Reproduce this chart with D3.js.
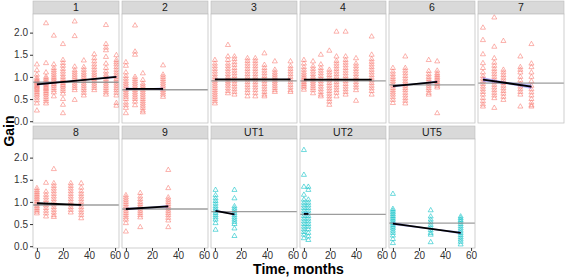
<!DOCTYPE html>
<html><head><meta charset="utf-8">
<script src="https://cdn.jsdelivr.net/npm/d3@7"></script>
<style>body{margin:0;background:#fff} text{font-family:"Liberation Sans",Arial,sans-serif}</style>
</head><body><svg id="c" width="567" height="277"></svg>
<script>
// ---- data ----
const panels = ["1","2","3","4","6","7","8","9","UT1","UT2","UT5"];
const groups = ["A","A","A","A","A","A","A","A","UT","UT","UT"];
const xTicks = [0, 20, 40, 60];
const yTicks = [0, 0.5, 1.0, 1.5, 2.0];

const t1 = [0, 7, 13, 20, 29, 36, 44, 53, 61];
const g1 = [
 [1.28,1.15,1.05,0.98,0.94,0.91,0.88,0.85,0.82,0.79,0.76,0.73,0.7,0.66,0.62,0.58,0.53,0.47,0.4,0.24],
 [2.21,1.31,1.1,1.0,0.96,0.92,0.88,0.85,0.82,0.78,0.75,0.72,0.68,0.64,0.6,0.55,0.5,0.45,0.4],
 [1.93,1.28,1.2,1.15,1.1,1.05,1.0,0.96,0.92,0.88,0.84,0.8,0.75,0.7,0.65,0.56],
 [1.74,1.38,1.31,1.25,1.18,1.12,1.06,1.0,0.95,0.9,0.86,0.82,0.78,0.73,0.68,0.62,0.5,0.37,0.18],
 [2.25,1.92,1.23,1.15,1.1,1.05,1.0,0.95,0.9,0.85,0.8,0.75,0.7,0.48],
 [1.37,1.22,1.16,1.1,1.05,1.0,0.95,0.9,0.85,0.8,0.75,0.7,0.64,0.58],
 [1.51,1.42,1.35,1.28,1.22,1.16,1.1,1.05,1.0,0.95,0.9,0.85,0.8,0.75,0.7],
 [2.17,1.74,1.66,1.6,1.45,1.3,1.2,1.12,1.05,1.0,0.95,0.9,0.85,0.8,0.75,0.7,0.65,0.6],
 [1.49,1.38,1.33,1.28,1.22,1.16,1.1,1.05,1.0,0.95,0.9,0.85,0.8,0.75,0.7,0.64,0.58,0.41,0.35]
];
const t2 = [0, 7, 13, 28.5];
const g2 = [
 [1.33,1.25,1.1,1.02,0.96,0.9,0.85,0.8,0.75,0.7,0.65,0.6,0.55,0.5,0.42,0.36,0.3,0.18],
 [2.16,1.57,1.5,1.0,0.95,0.9,0.85,0.8,0.75,0.7,0.65,0.6,0.55,0.5,0.44,0.36],
 [1.08,0.93,0.85,0.8,0.75,0.7,0.65,0.6,0.55,0.5,0.45,0.4,0.35,0.3,0.24,0.2],
 [1.26,1.05,1.0,0.95,0.9,0.85,0.8,0.75,0.7,0.65,0.6,0.55]
];
const t3 = [0, 10, 15, 25, 31, 38, 46, 58];
const g3 = [
 [1.38,1.3,1.24,1.18,1.12,1.06,1.0,0.95,0.9,0.85,0.8,0.75,0.7,0.65,0.6,0.55,0.5,0.45,0.4],
 [1.72,1.46,1.38,1.3,1.24,1.18,1.12,1.06,1.0,0.95,0.9,0.85,0.8,0.74,0.68,0.63],
 [1.46,1.4,1.33,1.27,1.2,1.14,1.08,1.02,0.96,0.9,0.84,0.78,0.72,0.66,0.6],
 [1.42,1.36,1.3,1.24,1.18,1.12,1.06,1.0,0.94,0.88,0.82,0.76,0.7,0.64,0.56],
 [1.42,1.36,1.3,1.24,1.18,1.12,1.06,1.0,0.94,0.88,0.82,0.76,0.7,0.63,0.56],
 [1.53,1.27,1.2,1.14,1.08,1.02,0.96,0.9,0.84,0.78,0.72,0.66,0.6,0.56],
 [1.35,1.16,1.1,1.05,1.0,0.95,0.9,0.85,0.8,0.75,0.7,0.66],
 [1.35,1.24,1.18,1.12,1.06,1.0,0.94,0.88,0.82,0.76,0.7,0.66]
];
const t4 = [0, 7, 13, 19.5, 25, 32, 40, 52];
const g4 = [
 [1.38,1.3,1.22,1.16,1.1,1.05,1.0,0.96,0.92,0.88,0.84,0.8,0.76,0.71],
 [1.35,1.24,1.18,1.12,1.06,1.0,0.95,0.9,0.85,0.8,0.75,0.7,0.63],
 [1.5,1.28,1.2,1.14,1.08,1.02,0.96,0.9,0.84,0.78,0.72,0.66,0.6,0.56],
 [1.59,1.16,1.1,1.04,0.98,0.92,0.86,0.8,0.74,0.68,0.62,0.56,0.5,0.44,0.37],
 [2.02,1.46,1.36,1.3,1.24,1.18,1.12,1.06,1.0,0.94,0.88,0.82,0.76,0.7,0.64,0.56],
 [2.02,1.46,1.38,1.32,1.26,1.2,1.14,1.08,1.02,0.96,0.9,0.84,0.78,0.72,0.66,0.6],
 [1.42,1.3,1.24,1.18,1.12,1.06,1.0,0.94,0.88,0.82,0.76,0.7,0.46],
 [1.91,1.5,1.4,1.34,1.28,1.22,1.16,1.1,1.04,0.98,0.92,0.86,0.8,0.74,0.68,0.6]
];
const t6 = [0, 9.5, 27.5, 34];
const g6 = [
 [1.2,1.12,1.06,1.0,0.95,0.9,0.85,0.8,0.75,0.7,0.65,0.6,0.54,0.48,0.41],
 [1.46,1.2,1.14,1.08,1.02,0.96,0.9,0.85,0.8,0.75,0.7,0.64,0.58,0.52,0.46,0.4],
 [1.38,1.13,1.06,1.0,0.95,0.9,0.85,0.8,0.75,0.7,0.64,0.6],
 [1.35,1.14,1.08,1.04,1.0,0.96,0.92,0.88,0.84,0.8,0.76,0.18]
];
const t7 = [0.8, 9.5, 16.5, 29.5, 38];
const g7 = [
 [2.11,1.83,1.51,1.31,1.2,1.1,1.02,0.96,0.9,0.84,0.78,0.72,0.66,0.6,0.52,0.45,0.38,0.33],
 [2.34,1.68,1.42,1.32,1.25,1.18,1.12,1.06,1.0,0.94,0.88,0.82,0.76,0.7,0.64,0.58,0.52,0.3],
 [1.81,1.16,1.1,1.04,0.98,0.92,0.86,0.8,0.74,0.68,0.62,0.55,0.48],
 [1.46,1.22,1.16,1.1,1.0,0.92,0.84,0.78,0.72,0.66,0.6,0.33],
 [1.74,1.3,1.22,1.1,1.0,0.9,0.8,0.72,0.65,0.58,0.5,0.42,0.36,0.33]
];
const t8 = [0, 7, 13, 26, 34];
const g8 = [
 [1.31,1.26,1.22,1.18,1.14,1.1,1.06,1.02,0.98,0.94,0.9,0.86,0.82,0.78,0.74],
 [1.43,1.23,1.16,1.1,1.04,0.98,0.92,0.86,0.8,0.74,0.67],
 [1.74,1.42,1.36,1.3,1.24,1.18,1.12,1.06,1.0,0.94,0.88,0.82,0.76,0.7,0.66],
 [1.42,1.36,1.3,1.24,1.18,1.12,1.06,1.0,0.94,0.88,0.82,0.76],
 [1.42,1.32,1.24,1.18,1.12,1.06,1.0,0.94,0.88,0.82,0.76,0.7,0.63]
];
const t9 = [0, 11, 32.5];
const g9 = [
 [1.15,1.1,1.05,1.0,0.95,0.9,0.85,0.8,0.75,0.7,0.65,0.6,0.52,0.33],
 [1.2,1.12,1.06,1.0,0.95,0.9,0.85,0.8,0.75,0.7,0.65,0.43],
 [1.72,1.31,1.1,1.05,1.0,0.95,0.9,0.85,0.8,0.75,0.7,0.64,0.58,0.43]
];
const tU1 = [0.5, 15];
const gU1 = [
 [1.27,1.15,1.08,1.02,0.96,0.9,0.85,0.8,0.75,0.7,0.65,0.6,0.52,0.37],
 [1.27,1.08,0.9,0.85,0.8,0.75,0.7,0.65,0.6,0.55,0.5,0.4,0.23]
];
const tU2 = [0, 3.4];
const gU2 = [
 [2.17,1.61,1.34,1.16,1.05,0.98,0.92,0.86,0.8,0.74,0.68,0.62,0.56,0.5,0.44,0.38,0.32,0.26,0.18],
 [1.34,1.27,1.05,0.98,0.92,0.86,0.8,0.74,0.68,0.62,0.56,0.5,0.44,0.38,0.3,0.22,0.14]
];
const tU5 = [0, 29, 52];
const gU5 = [
 [1.18,0.84,0.8,0.76,0.72,0.68,0.64,0.6,0.56,0.52,0.48,0.44,0.4,0.35,0.3,0.24,0.16,0.07],
 [0.81,0.67,0.6,0.54,0.48,0.42,0.36,0.3,0.26,0.09],
 [0.67,0.63,0.59,0.55,0.5,0.45,0.4,0.35,0.3,0.25,0.2,0.15,0.1,0.04]
];
const times = [t1,t2,t3,t4,t6,t7,t8,t9,tU1,tU2,tU5];
const gains = [g1,g2,g3,g4,g6,g7,g8,g9,gU1,gU2,gU5];

// horizontal reference level per panel
const refLevel = [0.88, 0.71, 0.91, 0.91, 0.82, 0.86, 0.93, 0.84, 0.78, 0.72, 0.52];
// fitted line: start/end time, start/end gain, standard error band
const fitX = [[0,61],[0,28.5],[0,58],[0,52],[0,34],[0.8,38],[0,34],[0,32.5],[0.5,15],[0,3.4],[0,52]];
const fitY = [[0.83,1.0],[0.73,0.73],[0.945,0.945],[0.94,0.94],[0.79,0.89],[0.94,0.78],[0.97,0.935],[0.84,0.90],[0.80,0.72],[0.73,0.73],[0.51,0.30]];
const fitSE = [0.025,0.03,0.012,0.012,0.03,0.05,0.015,0.03,0.03,0.04,0.03];

// ---- layout ----
const svg = d3.select("#c");
const colX = [33,122,211,300,389,478], panelW = 86;
const stripTop = [1,126], stripH = 13, panelH = 109;
const panelCol = [0,1,2,3,4,5,0,1,2,3,4];
const panelRow = [0,0,0,0,0,0,1,1,1,1,1];
const color = d3.scaleOrdinal().domain(["A","UT"]).range(["#F8766D","#00BFC4"]);
const x = d3.scaleLinear().domain([-3,63]).range([0,panelW]);
const y = d3.scaleLinear().domain([-0.04,2.42]).range([panelH,0]);
const tri = d3.symbol().type(d3.symbolTriangle).size(11);

const defs = svg.append("defs");

panels.forEach((name, i) => {
  const px = colX[panelCol[i]], sy = stripTop[panelRow[i]], py = sy + stripH;
  svg.append("rect").attr("x", px).attr("y", sy).attr("width", panelW).attr("height", stripH)
    .attr("fill", "#d9d9d9").attr("stroke", "#bdbdbd").attr("stroke-width", 0.6);
  svg.append("text").attr("x", px + panelW/2).attr("y", sy + stripH/2 + 0.5)
    .attr("text-anchor", "middle").attr("dominant-baseline", "middle")
    .attr("font-size", 10.5).attr("fill", "#1a1a1a").text(name);

  defs.append("clipPath").attr("id", "clip" + i).append("rect")
    .attr("width", panelW).attr("height", panelH);
  const g = svg.append("g").attr("transform", `translate(${px},${py})`);
  g.append("rect").attr("width", panelW).attr("height", panelH).attr("fill", "#fff");
  const inner = g.append("g").attr("clip-path", `url(#clip${i})`);

  const pts = [];
  times[i].forEach((t, k) => gains[i][k].forEach(v => pts.push([t, v])));
  inner.selectAll("path.pt").data(pts).join("path").attr("class", "pt")
    .attr("d", tri).attr("transform", d => `translate(${x(d[0])},${y(d[1])})`)
    .attr("fill", "none").attr("stroke", color(groups[i])).attr("stroke-width", 0.7)
    .attr("stroke-opacity", 0.8);

  inner.append("line").attr("x1", 0).attr("x2", panelW)
    .attr("y1", y(refLevel[i])).attr("y2", y(refLevel[i]))
    .attr("stroke", "#8c8c8c").attr("stroke-width", 1.3).attr("stroke-opacity", 0.85);

  const [x0, x1] = fitX[i], [y0, y1] = fitY[i], se = fitSE[i];
  const xm = (x0 + x1) / 2, ym = (y0 + y1) / 2;
  const band = [[x0, y0, se], [xm, ym, se * 0.55], [x1, y1, se]];
  inner.append("path").datum(band)
    .attr("d", d3.area().curve(d3.curveNatural).x(d => x(d[0]))
      .y0(d => y(d[1] - d[2])).y1(d => y(d[1] + d[2])))
    .attr("fill", "#3333ff").attr("fill-opacity", 0.35);
  inner.append("line").attr("x1", x(x0)).attr("x2", x(x1)).attr("y1", y(y0)).attr("y2", y(y1))
    .attr("stroke", "#000").attr("stroke-width", 1.8);

  g.append("rect").attr("width", panelW).attr("height", panelH)
    .attr("fill", "none").attr("stroke", "#c4c4c4").attr("stroke-width", 0.8);

  if (panelCol[i] === 0) {
    const ax = g.append("g").call(d3.axisLeft(y).tickValues(yTicks).tickFormat(d3.format(".1f")).tickSize(3).tickPadding(2));
    ax.select(".domain").remove();
    ax.selectAll("line").attr("stroke", "#333");
    ax.selectAll("text").attr("font-size", 10).attr("fill", "#333").style("font-family", '"Liberation Sans",Arial,sans-serif');
  }
  if (panelRow[i] === 1) {
    const ax = g.append("g").attr("transform", `translate(0,${panelH})`)
      .call(d3.axisBottom(x).tickValues(xTicks).tickSize(3).tickPadding(1));
    ax.select(".domain").remove();
    ax.selectAll("line").attr("stroke", "#333");
    ax.selectAll("text").attr("font-size", 10).attr("fill", "#333").style("font-family", '"Liberation Sans",Arial,sans-serif');
  }
});

svg.append("text").attr("x", (colX[0] + colX[5] + panelW) / 2).attr("y", 274)
  .attr("text-anchor", "middle").attr("font-size", 14).attr("font-weight", "bold")
  .attr("fill", "#000").text("Time, months");
svg.append("text").attr("transform", `translate(14,${(14 + 248) / 2}) rotate(-90)`)
  .attr("text-anchor", "middle").attr("font-size", 14).attr("font-weight", "bold")
  .attr("fill", "#000").text("Gain");
</script></body></html>
